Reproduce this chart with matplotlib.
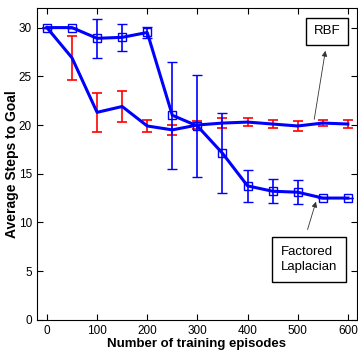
import matplotlib
matplotlib.use('Agg')
import matplotlib.pyplot as plt

plt.rcParams['font.family'] = ['Liberation Sans', 'DejaVu Sans']

episodes = [0, 50, 100, 150, 200, 250, 300, 350, 400, 450, 500, 550, 600]

# Factored Laplacian
lap_mean = [30, 30, 28.9, 29.0, 29.5, 21.0, 19.9, 17.1, 13.75, 13.2, 13.1, 12.5, 12.5]
lap_err = [0, 0, 2.0, 1.4, 0.6, 5.5, 5.2, 4.1, 1.65, 1.25, 1.25, 0, 0]

# RBF
rbf_mean = [30, 26.9, 21.3, 21.9, 19.9, 19.5, 20.0, 20.2, 20.3, 20.1, 19.9, 20.2, 20.1]
rbf_err = [0, 2.25, 2.0, 1.6, 0.65, 0.5, 0.4, 0.5, 0.4, 0.4, 0.5, 0.3, 0.4]

fig = plt.figure(figsize=(3.58, 3.53), dpi=100)
ax = fig.add_axes([0.103, 0.094, 0.894, 0.883])

ax.errorbar(episodes, rbf_mean, yerr=rbf_err, color='#0000ff', lw=2.2,
            ecolor='#ff0000', elinewidth=1.2, capsize=3.5, capthick=1.2, zorder=3)
ax.errorbar(episodes, lap_mean, yerr=lap_err, color='#0000ff', lw=2.2,
            marker='s', ms=5.5, mfc='none', mec='#0000ff', mew=1.0,
            ecolor='#0000ff', elinewidth=1.2, capsize=3.5, capthick=1.2, zorder=4)

ax.set_xlim(-20, 618)
ax.set_ylim(0, 32)
ax.set_xticks(range(0, 601, 100))
ax.set_yticks(range(0, 31, 5))
ax.tick_params(direction='in', top=True, right=True, labelsize=8.5, length=4)

ax.set_xlabel('Number of training episodes', fontsize=9.5, fontweight='bold', labelpad=1)
ax.set_ylabel('Average Steps to Goal', fontsize=10, fontweight='bold', labelpad=0)

arrow = dict(arrowstyle='-|>', color='#333333', lw=0.6, mutation_scale=8)

ax.text(558, 29.6, 'RBF', fontsize=9.5, ha='center', va='center',
        bbox=dict(boxstyle='square,pad=0.6', fc='white', ec='black', lw=1.0))
ax.annotate('', xy=(556, 27.9), xytext=(532, 20.3), arrowprops=arrow)

ax.text(466, 6.2, 'Factored\nLaplacian', fontsize=9.5, ha='left', va='center',
        linespacing=1.35,
        bbox=dict(boxstyle='square,pad=0.65', fc='white', ec='black', lw=1.0))
ax.annotate('', xy=(538, 12.4), xytext=(518, 9.0), arrowprops=arrow)

fig.savefig('out.png', dpi=100)
